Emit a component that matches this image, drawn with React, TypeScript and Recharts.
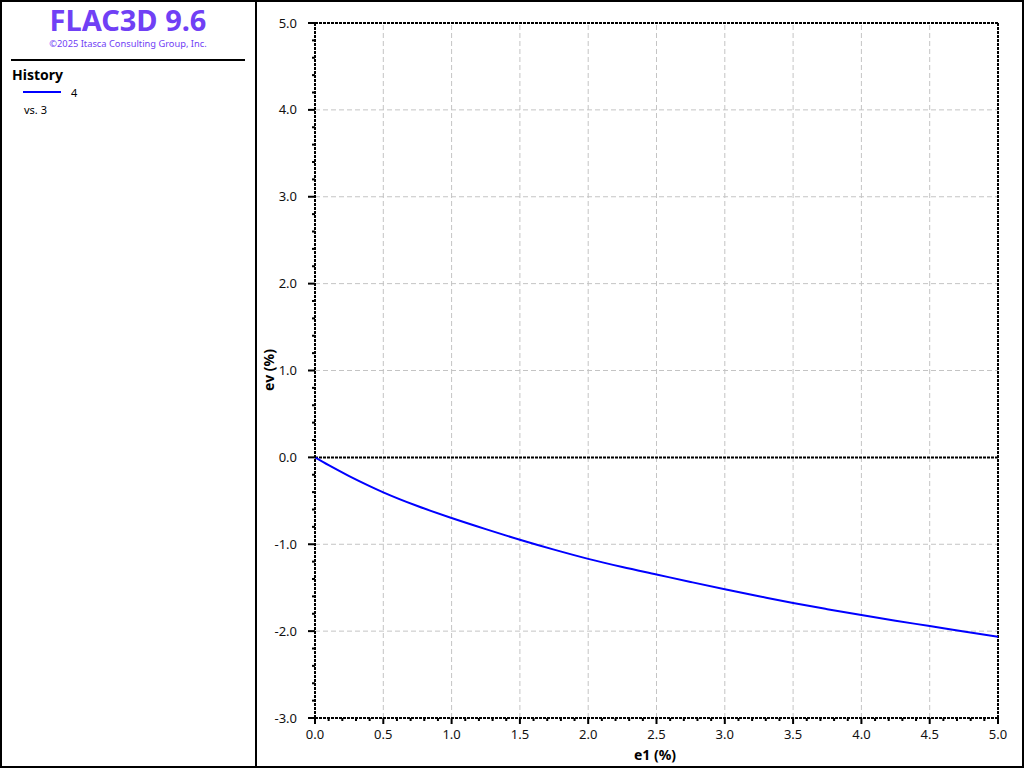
import { LineChart, Line, XAxis, YAxis, ReferenceLine } from 'recharts'

// e1 (%) vs ev (%)
const e1 = [0, 0.1, 0.25, 0.4, 0.5, 0.75, 1.0, 1.25, 1.5, 1.75, 2.0, 2.25, 2.5, 2.75, 3.0, 3.25, 3.5, 3.75, 4.0, 4.25, 4.5, 4.75, 5.0]
const ev = [0, -0.09, -0.215, -0.33, -0.402, -0.56, -0.698, -0.826, -0.948, -1.062, -1.168, -1.262, -1.348, -1.434, -1.518, -1.598, -1.676, -1.747, -1.815, -1.88, -1.942, -2.005, -2.066]

const xGrid = [0.5, 1.0, 1.5, 2.0, 2.5, 3.0, 3.5, 4.0, 4.5]
const yGrid = [-2, -1, 1, 2, 3, 4]

const steps = (lo: number, hi: number, step: number) => {
  const out: number[] = []
  const n = Math.round((hi - lo) / step)
  for (let i = 0; i <= n; i++) out.push(Math.round((lo + i * step) * 10) / 10)
  return out
}
const xTicks = steps(0, 5, 0.1)
const yTicks = steps(-3, 5, 0.2)

const data = e1.map((v, i) => ({ e1: v, ev: ev[i] }))

const FONT = '"Noto Sans", "Open Sans", sans-serif'
const isMult = (v: number, m: number) => Math.abs(v / m - Math.round(v / m)) < 1e-6

function XTick({ x, y, payload }: any) {
  const major = isMult(payload.value, 0.5)
  return (
    <g>
      <line x1={x} x2={x} y1={y} y2={y + (major ? 6 : 3)} stroke="#000" strokeWidth={2} />
      {major && (
        <text x={x} y={y + 21} textAnchor="middle" fontSize={13} fontFamily={FONT} fill="#111">
          {payload.value.toFixed(1)}
        </text>
      )}
    </g>
  )
}

function YTick({ x, y, payload }: any) {
  const major = isMult(payload.value, 1)
  return (
    <g>
      <line x1={x} x2={x - (major ? 7 : 3)} y1={y} y2={y} stroke="#000" strokeWidth={2} />
      {major && (
        <text x={x - 18} y={y + 4.5} textAnchor="end" fontSize={13} fontFamily={FONT} fill="#111">
          {payload.value.toFixed(1)}
        </text>
      )}
    </g>
  )
}

const dotted = { stroke: '#000', strokeWidth: 2, strokeDasharray: '3 1' }

export default function App() {
  return (
    <div style={{ position: 'fixed', left: 0, top: 0, width: 1024, height: 768, background: '#fff', overflow: 'hidden' }}>
      <div style={{ position: 'absolute', inset: 0, border: '2px solid #000', boxSizing: 'border-box' }} />
      <div style={{ position: 'absolute', left: 255, top: 0, width: 2, height: 768, background: '#000' }} />

      <div style={{ position: 'absolute', left: 0, top: 3, width: 256, textAlign: 'center', fontFamily: FONT, color: '#7040f5' }}>
        <div style={{ fontSize: 29, fontWeight: 700, lineHeight: '34px' }}>FLAC3D 9.6</div>
        <div style={{ fontSize: 9.3, lineHeight: '14px' }}>©2025 Itasca Consulting Group, Inc.</div>
      </div>
      <div style={{ position: 'absolute', left: 11, top: 59, width: 234, height: 2, background: '#000' }} />
      <div style={{ position: 'absolute', left: 12, top: 65, fontFamily: FONT, fontWeight: 700, fontSize: 14 }}>History</div>
      <div style={{ position: 'absolute', left: 23, top: 91, width: 38, height: 2, background: '#0000ff' }} />
      <div style={{ position: 'absolute', left: 71, top: 85, fontFamily: FONT, fontSize: 11 }}>4</div>
      <div style={{ position: 'absolute', left: 24, top: 102, fontFamily: FONT, fontSize: 11 }}>vs. 3</div>

      <div style={{ position: 'absolute', left: 0, top: 0 }}>
        <LineChart width={1024} height={768} data={data} margin={{ top: 23, right: 26, bottom: 0, left: 265 }}>
          {xGrid.map(v => (
            <ReferenceLine key={'x' + v} x={v} stroke="#c4c4c4" strokeDasharray="5 3" />
          ))}
          {yGrid.map(v => (
            <ReferenceLine key={'y' + v} y={v} stroke="#c4c4c4" strokeDasharray="5 3" />
          ))}
          <ReferenceLine y={0} {...dotted} />
          <ReferenceLine y={5} {...dotted} />
          <ReferenceLine x={5} {...dotted} />
          <XAxis
            dataKey="e1"
            type="number"
            domain={[0, 5]}
            ticks={xTicks}
            interval={0}
            height={50}
            tickSize={0}
            tickMargin={0}
            tickLine={false}
            axisLine={dotted}
            tick={<XTick />}
            allowDataOverflow
          />
          <YAxis
            type="number"
            domain={[-3, 5]}
            ticks={yTicks}
            interval={0}
            width={50}
            tickSize={0}
            tickMargin={0}
            tickLine={false}
            axisLine={dotted}
            tick={<YTick />}
            allowDataOverflow
          />
          <Line dataKey="ev" type="monotone" stroke="#0000ff" strokeWidth={2} dot={false} isAnimationActive={false} />
        </LineChart>
      </div>

      <div style={{ position: 'absolute', left: 268, top: 370, transform: 'translate(-50%, -50%) rotate(-90deg)', fontFamily: FONT, fontWeight: 700, fontSize: 14, whiteSpace: 'nowrap' }}>
        ev (%)
      </div>
      <div style={{ position: 'absolute', left: 655, top: 754, transform: 'translate(-50%, -50%)', fontFamily: FONT, fontWeight: 700, fontSize: 14, whiteSpace: 'nowrap' }}>
        e1 (%)
      </div>
    </div>
  )
}
